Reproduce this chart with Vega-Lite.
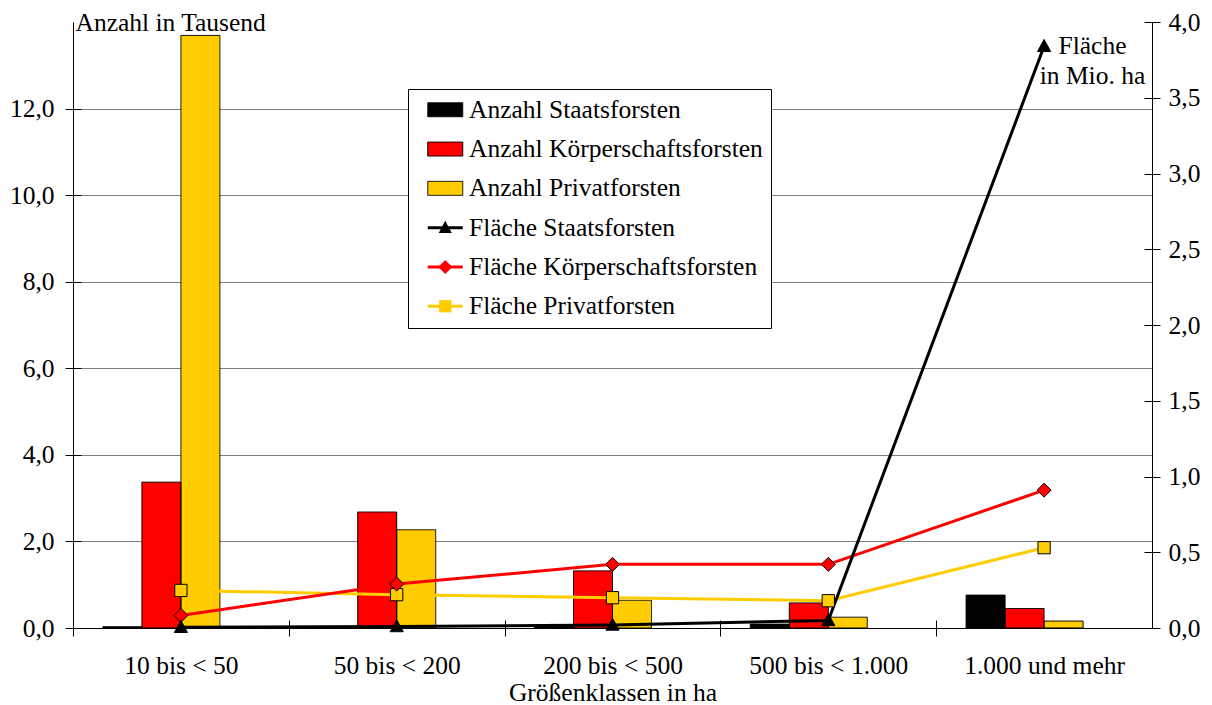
{
  "$schema": "https://vega.github.io/schema/vega-lite/v6.json",
  "width": 1079,
  "height": 606,
  "autosize": {"type": "none"},
  "padding": {"left": 73, "top": 22, "right": 60, "bottom": 77},
  "background": "white",
  "config": {
    "view": {"stroke": null},
    "font": "Liberation Serif",
    "axis": {
      "labelFont": "Liberation Serif",
      "titleFont": "Liberation Serif",
      "labelFontSize": 25.5,
      "titleFontSize": 25.5,
      "titleFontWeight": "normal",
      "labelColor": "black",
      "titleColor": "black",
      "domainColor": "black",
      "tickColor": "black",
      "domainWidth": 1,
      "tickWidth": 1
    },
    "legend": {
      "labelFont": "Liberation Serif",
      "labelFontSize": 25.5,
      "labelColor": "black",
      "labelLimit": 0,
      "orient": "none",
      "legendX": 335,
      "legendY": 67,
      "title": null,
      "direction": "vertical",
      "padding": 8,
      "symbolOffset": 16.5,
      "labelOffset": 11,
      "rowPadding": 12.3,
      "symbolSize": 306,
      "symbolOpacity": 1
    }
  },
  "datasets": {
    "anzahl": [
      {"klasse": "10 bis < 50", "serie": "Anzahl Staatsforsten", "wert": 0.03},
      {"klasse": "10 bis < 50", "serie": "Anzahl Körperschaftsforsten", "wert": 3.37},
      {"klasse": "10 bis < 50", "serie": "Anzahl Privatforsten", "wert": 13.69},
      {"klasse": "50 bis < 200", "serie": "Anzahl Staatsforsten", "wert": 0.03},
      {"klasse": "50 bis < 200", "serie": "Anzahl Körperschaftsforsten", "wert": 2.68},
      {"klasse": "50 bis < 200", "serie": "Anzahl Privatforsten", "wert": 2.27},
      {"klasse": "200 bis < 500", "serie": "Anzahl Staatsforsten", "wert": 0.04},
      {"klasse": "200 bis < 500", "serie": "Anzahl Körperschaftsforsten", "wert": 1.32},
      {"klasse": "200 bis < 500", "serie": "Anzahl Privatforsten", "wert": 0.64},
      {"klasse": "500 bis < 1.000", "serie": "Anzahl Staatsforsten", "wert": 0.09},
      {"klasse": "500 bis < 1.000", "serie": "Anzahl Körperschaftsforsten", "wert": 0.58},
      {"klasse": "500 bis < 1.000", "serie": "Anzahl Privatforsten", "wert": 0.25},
      {"klasse": "1.000 und mehr", "serie": "Anzahl Staatsforsten", "wert": 0.76},
      {"klasse": "1.000 und mehr", "serie": "Anzahl Körperschaftsforsten", "wert": 0.45},
      {"klasse": "1.000 und mehr", "serie": "Anzahl Privatforsten", "wert": 0.16}
    ],
    "flaeche": [
      {"klasse": "10 bis < 50", "serie": "Fläche Privatforsten", "wert": 0.248},
      {"klasse": "50 bis < 200", "serie": "Fläche Privatforsten", "wert": 0.22},
      {"klasse": "200 bis < 500", "serie": "Fläche Privatforsten", "wert": 0.2},
      {"klasse": "500 bis < 1.000", "serie": "Fläche Privatforsten", "wert": 0.18},
      {"klasse": "1.000 und mehr", "serie": "Fläche Privatforsten", "wert": 0.53},
      {"klasse": "10 bis < 50", "serie": "Fläche Körperschaftsforsten", "wert": 0.083},
      {"klasse": "50 bis < 200", "serie": "Fläche Körperschaftsforsten", "wert": 0.29},
      {"klasse": "200 bis < 500", "serie": "Fläche Körperschaftsforsten", "wert": 0.42},
      {"klasse": "500 bis < 1.000", "serie": "Fläche Körperschaftsforsten", "wert": 0.42},
      {"klasse": "1.000 und mehr", "serie": "Fläche Körperschaftsforsten", "wert": 0.91},
      {"klasse": "10 bis < 50", "serie": "Fläche Staatsforsten", "wert": 0.005},
      {"klasse": "50 bis < 200", "serie": "Fläche Staatsforsten", "wert": 0.01},
      {"klasse": "200 bis < 500", "serie": "Fläche Staatsforsten", "wert": 0.02},
      {"klasse": "500 bis < 1.000", "serie": "Fläche Staatsforsten", "wert": 0.05},
      {"klasse": "1.000 und mehr", "serie": "Fläche Staatsforsten", "wert": 3.84}
    ]
  },
  "layer": [
    {
      "data": {"name": "anzahl"},
      "encoding": {
        "x": {
          "field": "klasse",
          "type": "nominal",
          "sort": ["10 bis < 50", "50 bis < 200", "200 bis < 500", "500 bis < 1.000", "1.000 und mehr"],
          "scale": {"paddingInner": 0.277, "paddingOuter": 0.1385},
          "axis": {
            "title": "Größenklassen in ha",
            "labelFont": "Liberation Serif",
            "labelFontSize": 25.5,
            "labelAngle": 0,
            "ticks": true,
            "bandPosition": 0,
            "tickExtra": false,
            "tickOffset": -29.9,
            "labelOffset": 29.9,
            "tickSize": 16,
            "offset": -8,
            "domain": false,
            "grid": false,
            "labelPadding": 37,
            "labelBaseline": "alphabetic",
            "labelOverlap": false,
            "titleX": 539.5,
            "titleY": 80,
            "titleAlign": "center",
            "titleBaseline": "alphabetic"
          }
        },
        "xOffset": {
          "field": "serie",
          "type": "nominal",
          "scale": {
            "domain": ["Anzahl Staatsforsten", "Anzahl Körperschaftsforsten", "Anzahl Privatforsten", "leer"],
            "paddingInner": 0,
            "paddingOuter": 0
          }
        }
      },
      "layer": [
        {
          "mark": {"type": "bar"},
          "encoding": {
            "y": {
              "field": "wert",
              "type": "quantitative",
              "stack": null,
              "scale": {"domain": [0, 14], "nice": false},
              "axis": {
                "orient": "left",
                "values": [0, 2, 4, 6, 8, 10, 12],
                "labelExpr": "replace(format(datum.value,'.1f'),'.',',')",
                "labelFont": "Liberation Serif",
                "labelFontSize": 25.5,
                "grid": true,
                "gridColor": {"condition": {"test": "datum.value === 0", "value": "black"}, "value": "#808080"},
                "gridWidth": 1,
                "tickSize": 8,
                "labelPadding": 11,
                "title": "Anzahl in Tausend",
                "titleAngle": 0,
                "titleAlign": "left",
                "titleBaseline": "alphabetic",
                "titleX": 2,
                "titleY": 8
              }
            },
            "color": {
              "field": "serie",
              "type": "nominal",
              "scale": {
                "domain": ["Anzahl Staatsforsten", "Anzahl Körperschaftsforsten", "Anzahl Privatforsten", "Fläche Staatsforsten", "Fläche Körperschaftsforsten", "Fläche Privatforsten"],
                "range": ["#000000", "#FF0000", "#FFCC00", "transparent", "transparent", "transparent"]
              },
              "legend": {
                "symbolType": "M-2,-0.8H2V0.8H-2Z",
                "symbolStrokeWidth": 0,
                "strokeColor": "black",
                "fillColor": "white"
              }
            }
          }
        },
        {
          "mark": {"type": "bar", "fill": "transparent", "stroke": "black", "strokeWidth": 1},
          "encoding": {
            "y": {
              "field": "wert",
              "type": "quantitative",
              "stack": null,
              "axis": {
                "orient": "left",
                "values": [0, 2, 4, 6, 8, 10, 12],
                "offset": -8,
                "tickSize": 8,
                "labels": false,
                "domain": false,
                "grid": false,
                "title": null
              }
            },
            "strokeDash": {
              "field": "serie",
              "type": "nominal",
              "scale": {
                "domain": ["Anzahl Staatsforsten", "Anzahl Körperschaftsforsten", "Anzahl Privatforsten"],
                "range": [[1, 0], [1, 0], [1, 0]]
              },
              "legend": {
                "symbolType": "M-2,-0.8H2V0.8H-2Z",
                "symbolStrokeWidth": 1,
                "symbolStrokeColor": "black",
                "symbolFillColor": "transparent",
                "labelExpr": "' '"
              }
            }
          }
        }
      ],
      "resolve": {"axis": {"y": "independent"}}
    },
    {
      "data": {"name": "flaeche"},
      "encoding": {
        "x": {
          "field": "klasse",
          "type": "nominal",
          "sort": ["10 bis < 50", "50 bis < 200", "200 bis < 500", "500 bis < 1.000", "1.000 und mehr"]
        }
      },
      "layer": [
        {
          "mark": {"type": "line", "strokeWidth": 3},
          "encoding": {
            "y": {
              "field": "wert",
              "type": "quantitative",
              "scale": {"domain": [0, 4], "nice": false},
              "axis": {
                "orient": "right",
                "values": [0, 0.5, 1, 1.5, 2, 2.5, 3, 3.5, 4],
                "labelExpr": "replace(format(datum.value,'.1f'),'.',',')",
                "labelFont": "Liberation Serif",
                "labelFontSize": 25.5,
                "grid": false,
                "tickSize": 8,
                "labelPadding": 8,
                "title": ["Fläche", "in Mio. ha"],
                "titleAngle": 0,
                "titleAlign": "center",
                "titleBaseline": "alphabetic",
                "titleX": -60,
                "titleY": 31,
                "titleLineHeight": 30
              }
            },
            "stroke": {
              "field": "serie",
              "type": "nominal",
              "scale": {
                "domain": ["s1", "s2", "s3", "Fläche Staatsforsten", "Fläche Körperschaftsforsten", "Fläche Privatforsten"],
                "range": ["transparent", "transparent", "transparent", "#000000", "#FF0000", "#FFCC00"]
              },
              "legend": {
                "symbolType": "M-2,0H2",
                "symbolStrokeWidth": 3,
                "labelExpr": "' '"
              }
            },
            "order": {"value": null}
          }
        },
        {
          "mark": {"type": "point", "filled": true, "size": 306, "opacity": 1, "stroke": "black", "strokeWidth": 1},
          "encoding": {
            "y": {
              "field": "wert",
              "type": "quantitative",
              "axis": {
                "orient": "right",
                "values": [0, 0.5, 1, 1.5, 2, 2.5, 3, 3.5, 4],
                "offset": -8,
                "tickSize": 8,
                "labels": false,
                "domain": false,
                "grid": false,
                "title": null
              }
            },
            "shape": {
              "field": "serie",
              "type": "nominal",
              "scale": {
                "domain": ["p1", "p2", "p3", "Fläche Staatsforsten", "Fläche Körperschaftsforsten", "Fläche Privatforsten"],
                "range": ["M0,0", "M0,0", "M0,0", "M0,-0.78L0.75,0.6H-0.75Z", "M0,-0.8L0.8,0L0,0.8L-0.8,0Z", "M-0.7,-0.7H0.7V0.7H-0.7Z"]
              },
              "legend": {
                "symbolStrokeWidth": 1,
                "symbolStrokeColor": "black",
                "labelExpr": "' '"
              }
            },
            "fill": {
              "field": "serie",
              "type": "nominal",
              "scale": {
                "domain": ["p1", "p2", "p3", "Fläche Staatsforsten", "Fläche Körperschaftsforsten", "Fläche Privatforsten"],
                "range": ["transparent", "transparent", "transparent", "#000000", "#FF0000", "#FFCC00"]
              },
              "legend": {
                "symbolStrokeWidth": 1,
                "symbolStrokeColor": "black",
                "labelExpr": "' '"
              }
            }
          }
        }
      ],
      "resolve": {"axis": {"y": "independent"}}
    }
  ],
  "resolve": {"scale": {"y": "independent"}}
}
